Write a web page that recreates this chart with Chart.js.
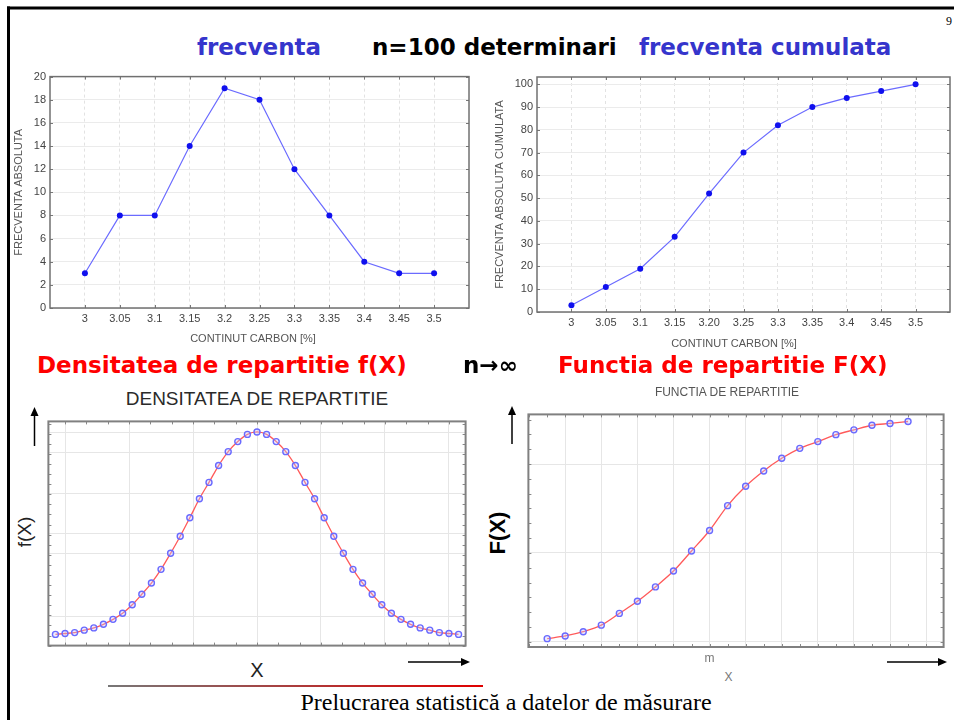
<!DOCTYPE html>
<html>
<head>
<meta charset="utf-8">
<script src="https://cdn.jsdelivr.net/npm/chart.js@4.4.1/dist/chart.umd.min.js"></script>
<style>
  body { margin: 0; background: #fff; }
  #slide { position: relative; width: 954px; height: 720px; overflow: hidden; background: #fff; }
  canvas { position: absolute; }
  .t { position: absolute; white-space: nowrap; line-height: 1; }
  .head { font-family: 'DejaVu Sans', sans-serif; font-weight: bold; font-size: 23px; }
  .ctr { transform: translate(-50%, -50%); }
  .rot { transform: translate(-50%, -50%) rotate(-90deg); }
  .sans { font-family: 'Liberation Sans', Arial, sans-serif; }
</style>
</head>
<body>
<div id="slide">
  <canvas id="freqChart" width="465" height="284" style="left:8px;top:66px"></canvas>
  <canvas id="cumChart" width="470" height="288" style="left:484px;top:66px"></canvas>
  <canvas id="densChart" width="428" height="235" style="left:43px;top:416px"></canvas>
  <canvas id="cdfChart" width="426" height="256" style="left:523px;top:409px"></canvas>

  <div class="t" style="left:946px;top:14px;font:12px 'Liberation Serif',serif">9</div>
  <div class="t head" style="left:197px;top:36px;color:#3535cc">frecventa</div>
  <div class="t head" style="left:372px;top:36px;color:#000">n=100 determinari</div>
  <div class="t head" style="left:639px;top:36px;color:#3535cc">frecventa cumulata</div>

  <div class="t sans ctr" style="left:253px;top:338px;font-size:11px;color:#555">CONTINUT CARBON [%]</div>
  <div class="t sans ctr" style="left:734px;top:343px;font-size:11px;color:#555">CONTINUT CARBON [%]</div>

  <div class="t head" style="left:37px;top:353.5px;color:#ff0000">Densitatea de repartitie f(X)</div>
  <div class="t head" style="left:463px;top:353.5px;color:#000">n→∞</div>
  <div class="t head" style="left:558px;top:353.5px;color:#ff0000">Functia de repartitie F(X)</div>

  <div class="t sans ctr" style="left:257px;top:397.5px;font-size:19px;color:#2a2a2a">DENSITATEA DE REPARTITIE</div>
  <div class="t sans ctr" style="left:727px;top:392px;font-size:12px;color:#555">FUNCTIA DE REPARTITIE</div>

  <div class="t sans rot" style="left:24px;top:532px;font-size:19px;color:#222">f(X)</div>
  <div class="t sans rot" style="left:498px;top:533px;font-size:22px;font-weight:bold;color:#000">F(X)</div>
  <div class="t sans ctr" style="left:257px;top:669.5px;font-size:20px;color:#222">X</div>
  <div class="t sans ctr" style="left:728.5px;top:677px;font-size:12px;color:#777">X</div>

  <div style="position:absolute;left:108px;top:685px;width:375px;height:1.5px;background:linear-gradient(to right,#777,#e00000)"></div>
  <div class="t ctr" style="left:506px;top:702px;font:24px 'Liberation Serif','Times New Roman',serif;color:#000">Prelucrarea statistică a datelor de măsurare</div>

  <svg style="position:absolute;left:0;top:0" width="954" height="720">
    <rect x="7" y="6.5" width="947" height="3" fill="#000"/>
    <rect x="7" y="6.5" width="3" height="714" fill="#000"/>
    <line x1="34.5" y1="446" x2="34.5" y2="414" stroke="#000" stroke-width="1.5"/>
    <polygon points="34.5,407 30.5,416 38.5,416" fill="#000"/>
    <line x1="512" y1="444" x2="512" y2="413" stroke="#000" stroke-width="1.5"/>
    <polygon points="512,406 508,415 516,415" fill="#000"/>
    <line x1="408" y1="662" x2="463" y2="662" stroke="#000" stroke-width="1.5"/>
    <polygon points="470,662 461,658 461,666" fill="#000"/>
    <line x1="887" y1="662" x2="940" y2="662" stroke="#000" stroke-width="1.5"/>
    <polygon points="947,662 938,658 938,666" fill="#000"/>
  </svg>
</div>
<script>
// carbon content classes and counts (n = 100)
const carbonX = [3, 3.05, 3.1, 3.15, 3.2, 3.25, 3.3, 3.35, 3.4, 3.45, 3.5];
const carbonLabels = ['3', '3.05', '3.1', '3.15', '3.2', '3.25', '3.3', '3.35', '3.4', '3.45', '3.5'];
const carbonLabelsCum = ['3', '3.05', '3.1', '3.15', '3.20', '3.25', '3.3', '3.35', '3.4', '3.45', '3.5'];
const freqAbs = [3, 8, 8, 14, 19, 18, 12, 8, 4, 3, 3];
const freqCum = [3, 11, 19, 33, 52, 70, 82, 90, 94, 97, 100];
const freqTicks = [0, 2, 4, 6, 8, 10, 12, 14, 16, 18, 20];
const cumTicks = [0, 10, 20, 30, 40, 50, 60, 70, 80, 90, 100];

// density curve (x in sigma units, y in % of plot height)
const densX = [-3.15, -3.0, -2.85, -2.7, -2.55, -2.4, -2.25, -2.1, -1.95, -1.8, -1.65,
  -1.5, -1.35, -1.2, -1.05, -0.9, -0.75, -0.6, -0.45, -0.3, -0.15, 0,
  0.15, 0.3, 0.45, 0.6, 0.75, 0.9, 1.05, 1.2, 1.35, 1.5, 1.65,
  1.8, 1.95, 2.1, 2.25, 2.4, 2.55, 2.7, 2.85, 3.0, 3.15];
const densY = [5.0, 5.4, 5.8, 6.9, 7.9, 9.5, 11.7, 14.4, 18.2, 22.9, 27.9,
  34.0, 41.2, 48.8, 57.0, 65.5, 72.8, 80.3, 86.5, 91.0, 94.2, 95.3,
  94.2, 91.0, 86.5, 80.3, 72.8, 65.5, 57.0, 48.8, 41.2, 34.0, 27.9,
  22.9, 18.2, 14.4, 11.7, 9.5, 7.9, 6.9, 5.8, 5.4, 5.0];
const densGridX = [-3, -2, -1, 0, 1, 2, 3];
const densGridY = [13.2, 41.2, 50, 68, 86, 95.2];

// distribution function (x in steps from m)
const cdfX = [-9, -8, -7, -6, -5, -4, -3, -2, -1, 0, 1, 2, 3, 4, 5, 6, 7, 8, 9, 10, 11];
const cdfY = [1.8, 3.3, 5.7, 9.4, 16.0, 22.8, 30.9, 39.8, 51.1, 62.6, 76.6,
  87.5, 96.1, 103.2, 108.8, 112.6, 116.5, 119.2, 121.8, 122.8, 123.9];
const cdfGridX = [-8, -6, -4, -2, 0, 2, 4, 6, 8, 10, 12];
const cdfGridY = [0, 50, 100];

const FONT = "'Liberation Sans', Arial, sans-serif";

// frame round the plot area with small inward ticks
const framePlugin = {
  id: 'frame',
  afterDraw(chart, args, opts) {
    const { ctx, chartArea: a, scales: { x, y } } = chart;
    const len = opts.len || 3;
    ctx.save();
    ctx.strokeStyle = opts.tickColor || '#666';
    ctx.lineWidth = 1;
    ctx.beginPath();
    (opts.xTicks || []).forEach(v => {
      const px = Math.round(x.getPixelForValue(v)) + 0.5;
      ctx.moveTo(px, a.top); ctx.lineTo(px, a.top + len);
      ctx.moveTo(px, a.bottom); ctx.lineTo(px, a.bottom - len);
    });
    (opts.yTicks || []).forEach(v => {
      const py = Math.round(y.getPixelForValue(v)) + 0.5;
      ctx.moveTo(a.left, py); ctx.lineTo(a.left + len, py);
      ctx.moveTo(a.right, py); ctx.lineTo(a.right - len, py);
    });
    ctx.stroke();
    ctx.strokeStyle = opts.color || '#777';
    ctx.lineWidth = opts.width || 1.5;
    ctx.strokeRect(a.left, a.top, a.right - a.left, a.bottom - a.top);
    ctx.restore();
  }
};

function baseOptions() {
  return {
    responsive: false,
    animation: false,
    devicePixelRatio: 1,
    plugins: { legend: { display: false }, tooltip: { enabled: false } },
    elements: { line: { fill: false } }
  };
}

function topChart(id, xs, ys, labels, yTicks, yMax, yTitle, yWidth, padTop, titlePad) {
  const opts = baseOptions();
  opts.layout = { padding: { top: padTop, right: 3, left: 0, bottom: 0 } };
  opts.plugins.frame = { xTicks: xs, yTicks: yTicks, color: '#707070', width: 1.5, tickColor: '#777' };
  opts.scales = {
    x: {
      type: 'linear', min: 2.95, max: 3.55,
      afterBuildTicks: s => { s.ticks = xs.map(v => ({ value: v })); },
      afterFit: s => { s.height = 42; },
      ticks: {
        autoSkip: false, maxRotation: 0, padding: 4, color: '#444',
        font: { family: FONT, size: 11 },
        callback: (v, i) => labels[i]
      },
      grid: { color: '#e2e2e2', lineWidth: 1, drawTicks: false },
      border: { display: false, dash: [3, 3] }
    },
    y: {
      min: 0, max: yMax,
      afterBuildTicks: s => { s.ticks = yTicks.map(v => ({ value: v })); },
      afterFit: s => { s.width = yWidth; },
      ticks: { padding: 4, color: '#444', font: { family: FONT, size: 11 }, callback: v => String(v) },
      grid: { color: '#ebebeb', lineWidth: 1, drawTicks: false },
      border: { display: false },
      title: { display: true, text: yTitle, color: '#555', font: { family: FONT, size: 11 }, padding: { top: titlePad, bottom: 0 } }
    }
  };
  return new Chart(document.getElementById(id), {
    type: 'line',
    data: {
      datasets: [{
        data: xs.map((x, i) => ({ x: x, y: ys[i] })),
        borderColor: '#6b6bff', borderWidth: 1.2, tension: 0,
        pointRadius: 3, pointBackgroundColor: '#1010ee', pointBorderColor: '#1010ee', pointBorderWidth: 0
      }]
    },
    options: opts,
    plugins: [framePlugin]
  });
}

topChart('freqChart', carbonX, freqAbs, carbonLabels, freqTicks, 20, 'FRECVENTA ABSOLUTA', 42, 7, 4);
topChart('cumChart', carbonX, freqCum, carbonLabelsCum, cumTicks, 103.2, 'FRECVENTA ABSOLUTA CUMULATA', 53, 11, 9);

// minor tick positions along the frames
const densMinorX = [];
for (let k = -9; k <= 9; k++) densMinorX.push(k / 3);
const densMinorY = [];
for (let v = 0; v <= 100; v += 4.5) densMinorY.push(v);
const cdfMinorX = [];
for (let k = -10; k <= 12; k++) cdfMinorX.push(k);
const cdfMinorY = [];
for (let k = 0; k <= 15; k++) cdfMinorY.push(k * 50 / 6);

function curveChart(id, xs, ys, gx, gy, xMin, xMax, yMin, yMax, xHeight, minorX, minorY, xLabel) {
  const opts = baseOptions();
  opts.layout = { padding: { top: 3, right: 3, left: 3, bottom: xHeight ? 0 : 4 } };
  opts.plugins.frame = { xTicks: minorX, yTicks: minorY, color: '#808080', width: 2, tickColor: '#888' };
  opts.scales = {
    x: {
      type: 'linear', min: xMin, max: xMax,
      afterBuildTicks: s => { s.ticks = gx.map(v => ({ value: v })); },
      afterFit: s => { s.height = xHeight; },
      ticks: {
        display: !!xLabel, autoSkip: false, maxRotation: 0, padding: 4, color: '#777',
        font: { family: FONT, size: 12 },
        callback: v => (v === 0 ? xLabel : '')
      },
      grid: { color: '#e6e6e6', lineWidth: 1, drawTicks: false },
      border: { display: false }
    },
    y: {
      min: yMin, max: yMax,
      afterBuildTicks: s => { s.ticks = gy.map(v => ({ value: v })); },
      afterFit: s => { s.width = 0; },
      ticks: { display: false },
      grid: { color: '#e6e6e6', lineWidth: 1, drawTicks: false },
      border: { display: false }
    }
  };
  return new Chart(document.getElementById(id), {
    type: 'line',
    data: {
      datasets: [{
        data: xs.map((x, i) => ({ x: x, y: ys[i] })),
        borderColor: '#ff5a5a', borderWidth: 1.3, cubicInterpolationMode: 'monotone',
        pointRadius: 3, pointBackgroundColor: 'rgba(200,200,255,0.35)', pointBorderColor: '#6a6aff', pointBorderWidth: 1.4
      }]
    },
    options: opts,
    plugins: [framePlugin]
  });
}

curveChart('densChart', densX, densY, densGridX, densGridY, -3.26, 3.26, 0, 100, 0, densMinorX, densMinorY, '');
curveChart('cdfChart', cdfX, cdfY, cdfGridX, cdfGridY, -10.04, 12.97, -2.9, 127.9, 18, cdfMinorX, cdfMinorY, 'm');
</script>
</body>
</html>
